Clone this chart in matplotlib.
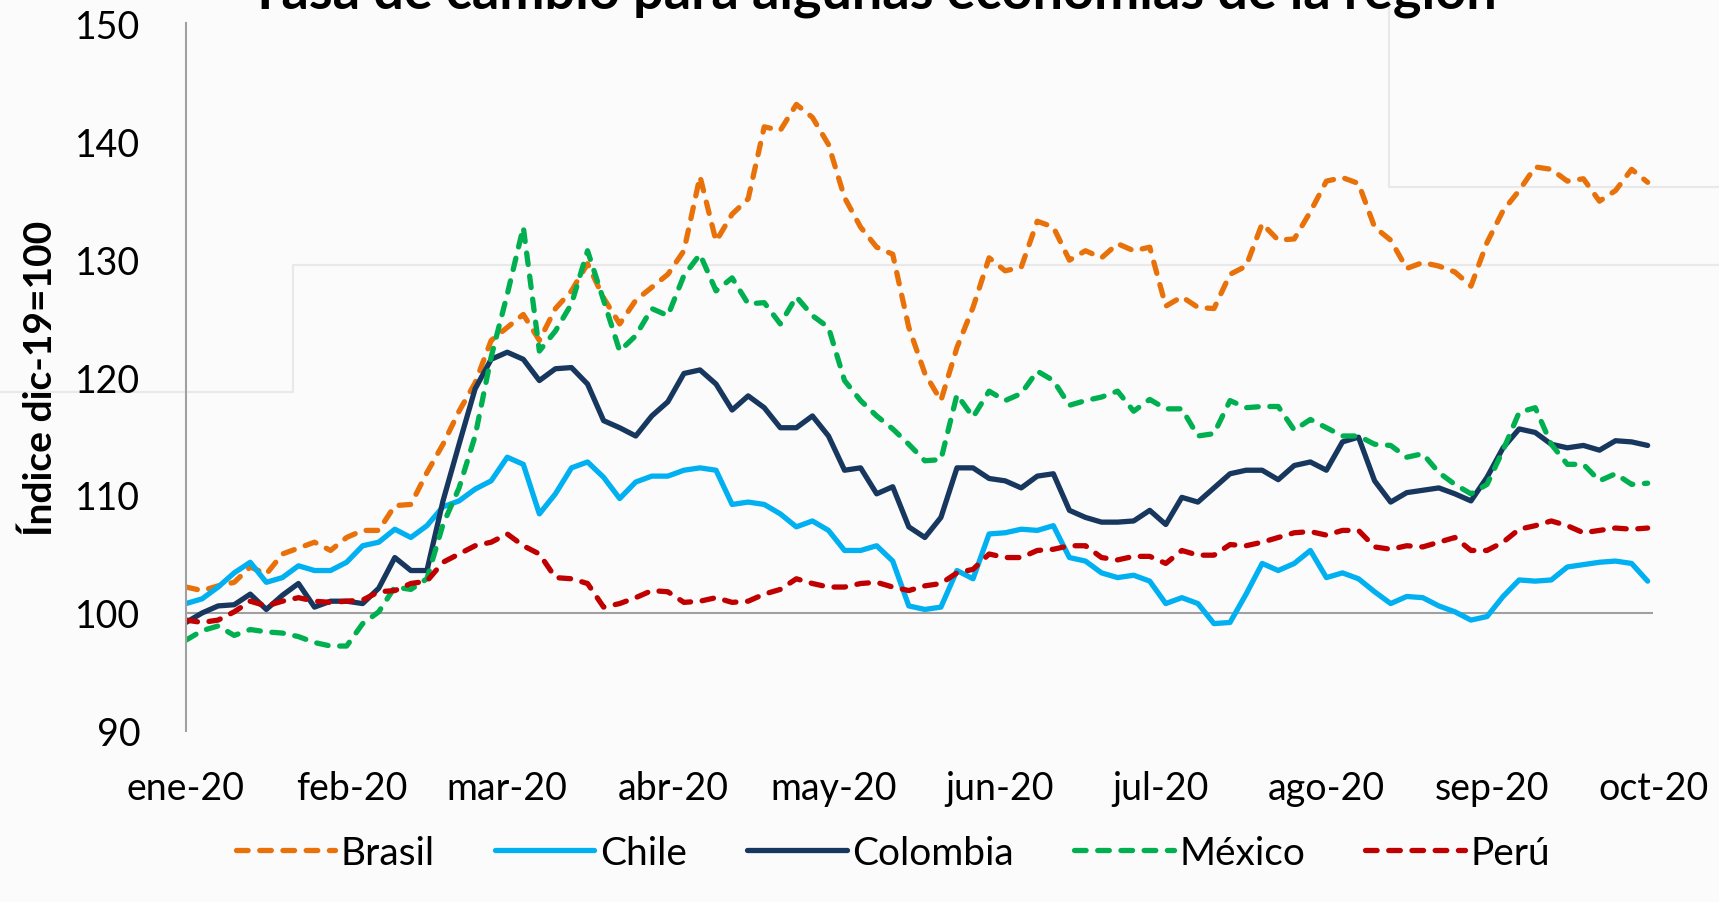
import numpy as np
import matplotlib
matplotlib.use("Agg")
import matplotlib.pyplot as plt
from matplotlib.lines import Line2D

plt.rcParams['font.family'] = ['Lato', 'DejaVu Sans']

# ---- data (index dic-19 = 100), sampled every 3 days from 1 Jan 2020 ----
start_date = np.datetime64('2020-01-01')
step_days = 3

brasil = [102.2, 101.9, 102.3, 102.6, 103.9, 103.3, 105.0, 105.5, 106.0, 105.3,
          106.4, 107.0, 107.0, 109.1, 109.2, 111.9, 114.3, 117.1, 119.5, 123.1,
          124.2, 125.3, 123.1, 125.8, 127.3, 129.6, 126.7, 124.5, 126.5, 127.6,
          128.7, 130.7, 137.0, 131.5, 133.8, 135.1, 141.2, 140.9, 143.1, 142.0,
          139.7, 135.2, 132.7, 131.0, 130.4, 124.2, 120.3, 118.0, 122.5, 125.9,
          130.1, 129.0, 129.3, 133.2, 132.7, 129.9, 130.7, 130.1, 131.3, 130.7,
          131.0, 126.0, 126.8, 125.9, 125.8, 128.7, 129.4, 133.0, 131.6, 131.7,
          134.0, 136.6, 136.9, 136.4, 132.7, 131.6, 129.2, 129.7, 129.4, 128.9,
          127.7, 131.4, 134.1, 135.8, 137.8, 137.6, 136.6, 136.8, 134.9, 135.8,
          137.6, 136.5]

chile = [100.8, 101.2, 102.2, 103.4, 104.3, 102.6, 103.0, 104.0, 103.6, 103.6,
         104.3, 105.7, 106.0, 107.1, 106.4, 107.4, 109.0, 109.5, 110.5, 111.2,
         113.2, 112.6, 108.4, 110.1, 112.3, 112.8, 111.5, 109.7, 111.1, 111.6,
         111.6, 112.1, 112.3, 112.1, 109.2, 109.4, 109.2, 108.4, 107.3, 107.8,
         107.0, 105.3, 105.3, 105.7, 104.4, 100.6, 100.3, 100.5, 103.6, 102.9,
         106.7, 106.8, 107.1, 107.0, 107.4, 104.7, 104.4, 103.4, 103.0, 103.2,
         102.7, 100.8, 101.3, 100.8, 99.1, 99.2, 101.6, 104.2, 103.6, 104.2,
         105.3, 103.0, 103.4, 102.9, 101.8, 100.8, 101.4, 101.3, 100.6, 100.1,
         99.4, 99.7, 101.4, 102.8, 102.7, 102.8, 103.9, 104.1, 104.3, 104.4,
         104.2, 102.7]

colombia = [99.2, 100.0, 100.6, 100.7, 101.6, 100.3, 101.5, 102.5, 100.5, 101.0,
            101.0, 100.8, 102.1, 104.7, 103.6, 103.6, 109.5, 114.3, 119.0, 121.5,
            122.1, 121.5, 119.7, 120.7, 120.8, 119.4, 116.3, 115.7, 115.0, 116.7,
            117.9, 120.3, 120.6, 119.4, 117.2, 118.4, 117.4, 115.7, 115.7, 116.7,
            115.0, 112.1, 112.3, 110.1, 110.7, 107.3, 106.4, 108.1, 112.3, 112.3,
            111.4, 111.2, 110.6, 111.6, 111.8, 108.7, 108.1, 107.7, 107.7, 107.8,
            108.7, 107.5, 109.8, 109.4, 110.6, 111.8, 112.1, 112.1, 111.3, 112.5,
            112.8, 112.1, 114.5, 114.9, 111.2, 109.4, 110.2, 110.4, 110.6, 110.1,
            109.5, 111.5, 114.0, 115.6, 115.3, 114.3, 114.0, 114.2, 113.8, 114.6,
            114.5, 114.2]

mexico = [97.7, 98.5, 98.9, 98.1, 98.6, 98.4, 98.3, 98.0, 97.5, 97.2,
          97.2, 99.1, 100.1, 102.2, 102.0, 102.9, 107.5, 110.6, 115.0, 121.7,
          127.0, 132.7, 122.2, 123.9, 126.2, 130.7, 126.5, 122.2, 123.5, 125.8,
          125.2, 128.6, 130.4, 127.3, 128.4, 126.2, 126.3, 124.5, 126.8, 125.2,
          124.2, 119.7, 118.0, 116.7, 115.6, 114.3, 112.9, 113.0, 118.5, 116.6,
          118.8, 118.0, 118.6, 120.5, 119.7, 117.6, 118.0, 118.3, 118.8, 117.1,
          118.1, 117.3, 117.3, 115.0, 115.2, 118.0, 117.4, 117.5, 117.5, 115.5,
          116.4, 115.7, 115.0, 115.0, 114.3, 114.2, 113.2, 113.5, 111.9, 110.9,
          110.1, 110.9, 113.8, 117.0, 117.4, 114.3, 112.6, 112.6, 111.2, 111.8,
          110.9, 111.0]

peru = [99.4, 99.2, 99.4, 100.1, 101.0, 100.6, 101.0, 101.3, 101.0, 100.9,
        101.0, 101.1, 101.8, 101.9, 102.5, 102.7, 104.3, 105.0, 105.7, 106.0,
        106.7, 105.7, 105.0, 103.0, 102.9, 102.5, 100.5, 100.8, 101.3, 101.9,
        101.8, 100.9, 101.0, 101.3, 100.9, 101.0, 101.6, 102.0, 102.9, 102.5,
        102.2, 102.2, 102.5, 102.6, 102.2, 101.9, 102.3, 102.5, 103.4, 103.7,
        105.0, 104.7, 104.7, 105.3, 105.4, 105.7, 105.7, 104.7, 104.5, 104.8,
        104.8, 104.2, 105.3, 104.9, 104.9, 105.8, 105.7, 106.0, 106.4, 106.8,
        106.9, 106.6, 107.0, 107.0, 105.6, 105.4, 105.7, 105.6, 106.0, 106.4,
        105.3, 105.3, 106.0, 107.1, 107.4, 107.8, 107.4, 106.8, 107.0, 107.2,
        107.1, 107.2]

month_ticks = ['2020-01-01', '2020-02-01', '2020-03-01', '2020-04-01', '2020-05-01',
               '2020-06-01', '2020-07-01', '2020-08-01', '2020-09-01', '2020-10-01']
month_labels = ['ene-20', 'feb-20', 'mar-20', 'abr-20', 'may-20',
                'jun-20', 'jul-20', 'ago-20', 'sep-20', 'oct-20']
y_ticks = [90, 100, 110, 120, 130, 140, 150]

title = 'Tasa de cambio para algunas economías de la región'
ylabel = 'Índice dic-19=100'

series = [
    ('Brasil', brasil, '#E8710A', 'dash'),
    ('Chile', chile, '#00B0F0', 'solid'),
    ('Colombia', colombia, '#17375E', 'solid'),
    ('México', mexico, '#00B050', 'dash'),
    ('Perú', peru, '#C00000', 'dash'),
]

dates = start_date + np.arange(len(brasil)) * step_days
dates = dates.astype('datetime64[D]').astype('O')

W, H = 1719, 903
fig = plt.figure(figsize=(W / 100, H / 100), dpi=100, facecolor='#fbfbfb')

# faint background frames (screenshot artifacts)
def fx(px):
    return px / W
def fy(py):
    return 1 - py / H
bg = '#e9e9e9'
fig.add_artist(Line2D([fx(0), fx(293), fx(293), fx(W)],
                      [fy(393), fy(393), fy(266), fy(266)],
                      color=bg, lw=1.6, zorder=0))
fig.add_artist(Line2D([fx(1389), fx(1389), fx(W)],
                      [fy(0), fy(188), fy(188)],
                      color=bg, lw=1.6, zorder=0))

ax = fig.add_axes([186 / W, 1 - 732 / H, (1653 - 186) / W, (732 - 24) / H])
ax.set_facecolor('none')

lw = 3.8
for name, vals, col, style in series:
    if style == 'dash':
        ax.plot(dates, vals, color=col, lw=lw, label=name,
                dashes=(2.2, 2.2), dash_capstyle='round', solid_joinstyle='round')
    else:
        ax.plot(dates, vals, color=col, lw=lw, label=name,
                solid_capstyle='round', solid_joinstyle='round')

ax.set_ylim(90, 150)
ax.set_xlim(np.datetime64('2020-01-01').astype('O'),
            np.datetime64('2020-10-01').astype('O'))
ax.set_yticks(y_ticks)
ax.set_yticklabels([str(v) for v in y_ticks])
tick_dates = [np.datetime64(d).astype('O') for d in month_ticks]
ax.set_xticks(tick_dates)
ax.set_xticklabels(month_labels)

for s in ['top', 'right', 'bottom']:
    ax.spines[s].set_visible(False)
ax.spines['left'].set_color('#a0a0a0')
ax.spines['left'].set_linewidth(1.5)
ax.axhline(100, color='#a0a0a0', lw=1.5, zorder=1)

ax.tick_params(axis='both', length=0, labelsize=27, colors='black')
ax.tick_params(axis='y', pad=33)
ax.tick_params(axis='x', pad=28)

fig.text(40 / W, 1 - 378 / H, ylabel, rotation=90, ha='center', va='center',
         fontsize=28, fontweight='bold')

fig.text(0.508, 1 - 8 / H, title, ha='center', va='baseline',
         fontsize=39, fontweight='bold')

leg = fig.legend(loc='center', bbox_to_anchor=(893 / W, 1 - 854 / H), ncol=5,
                 frameon=False, fontsize=28, handlelength=2.55,
                 handletextpad=0.15, columnspacing=1.55)

fig.savefig('out.png', dpi=100, facecolor=fig.get_facecolor())
